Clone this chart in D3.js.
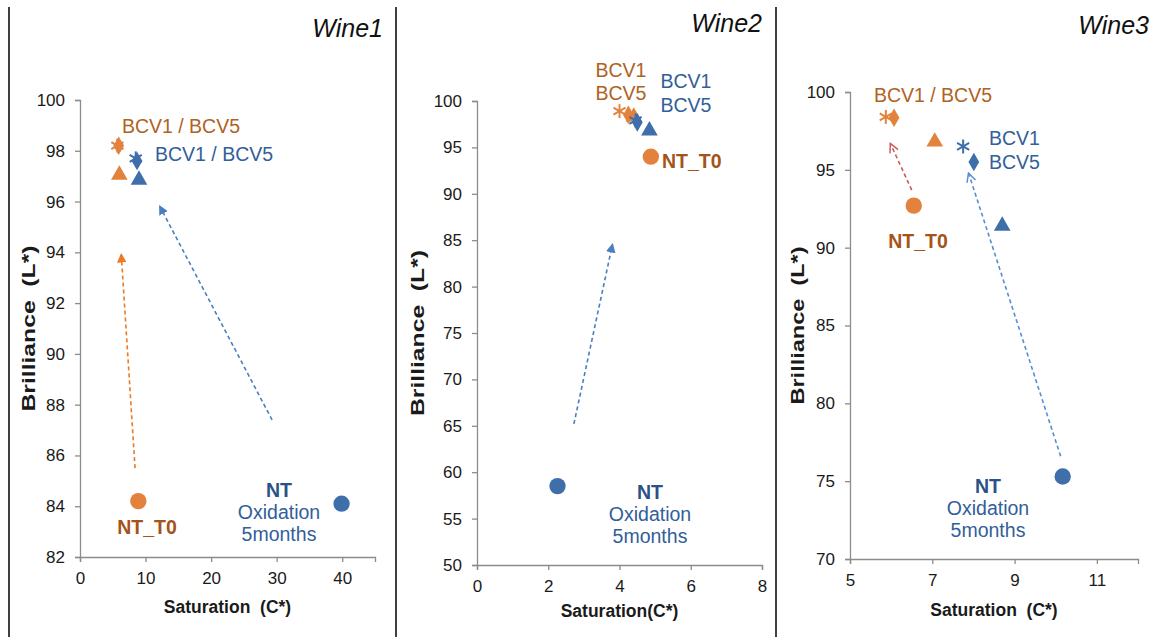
<!DOCTYPE html>
<html>
<head>
<meta charset="utf-8">
<script src="https://cdn.jsdelivr.net/npm/d3@7"></script>
<style>
  body { margin: 0; background: #fff; }
  svg { display: block; font-family: "Liberation Sans", Arial, sans-serif; }
  text { white-space: pre; }
</style>
</head>
<body>
<svg id="chart" width="1157" height="637"></svg>
<script>
// marker order used by every series
const symbols = ["asterisk", "diamond", "triangle", "circle"];

// Wine1
const wine1OrangeX = [5.7, 5.9, 6.0, 8.9];
const wine1OrangeY = [98.2, 98.2, 97.05, 84.2];
const wine1BlueX = [8.5, 8.7, 9.0, 39.9];
const wine1BlueY = [97.7, 97.6, 96.85, 84.1];
// Wine2
const wine2OrangeX = [4.0, 4.25, 4.4, 4.88];
const wine2OrangeY = [98.9, 98.5, 98.3, 94.0];
const wine2BlueX = [4.45, 4.5, 4.84, 2.26];
const wine2BlueY = [97.9, 97.7, 96.8, 58.5];
// Wine3
const wine3OrangeX = [5.87, 6.07, 7.06, 6.55];
const wine3OrangeY = [98.4, 98.35, 96.8, 92.7];
const wine3BlueX = [7.75, 8.01, 8.7, 10.17];
const wine3BlueY = [96.5, 95.5, 91.4, 75.3];

// tick values
const wine1XTicks = [0, 10, 20, 30, 40];
const wine1YTicks = [82, 84, 86, 88, 90, 92, 94, 96, 98, 100];
const wine2XTicks = [0, 2, 4, 6, 8];
const wine2YTicks = [50, 55, 60, 65, 70, 75, 80, 85, 90, 95, 100];
const wine3XTicks = [5, 7, 9, 11];
const wine3YTicks = [70, 75, 80, 85, 90, 95, 100];

// arrows: [x1, y1, x2, y2]
const wine1Arrows = [[8.4, 85.5, 6.3, 93.9], [29.3, 87.4, 12.2, 95.8]];
const wine2Arrows = [[2.72, 65.2, 3.8, 84.5]];
const wine3Arrows = [[6.5, 93.7, 5.98, 96.7], [10.12, 76.6, 7.88, 94.8]];

const ORANGE = "#E2823C", BLUE = "#3F6FAA";
const ORANGE_TXT = "#B0621F", BLUE_TXT = "#325E99";
const NT_T0_TXT = "#A4541A", NT_TXT = "#2B5286";

const svg = d3.select("#chart");

// panel separators
[9, 396, 776].forEach(x => {
    svg.append("line")
        .attr("x1", x).attr("x2", x)
        .attr("y1", 7).attr("y2", 637)
        .attr("stroke", "#000")
        .attr("stroke-width", 1.5);
});

// arrow heads
const defs = svg.append("defs");
function addHead(id, color, open) {
    const m = defs.append("marker")
        .attr("id", id)
        .attr("viewBox", "0 0 10 10")
        .attr("refX", open ? 9 : 8).attr("refY", 5)
        .attr("markerWidth", open ? 7 : 6).attr("markerHeight", open ? 7 : 6)
        .attr("markerUnits", "strokeWidth")
        .attr("orient", "auto");
    if (open) {
        m.append("path").attr("d", "M1,1 L9,5 L1,9")
            .attr("fill", "none").attr("stroke", color).attr("stroke-width", 1.3);
    } else {
        m.append("path").attr("d", "M0,0 L10,5 L0,10 Z").attr("fill", color);
    }
}
addHead("head-orange", "#EC7A22", false);
addHead("head-blue", "#4A7EBE", false);
addHead("head-red", "#CB5A5A", true);
addHead("head-blue-open", "#5A8CD2", true);

const panels = [
    {
        title: "Wine1", titleX: 383, titleY: 37,
        left: 80, right: 375, top: 100, bottom: 557,
        xDomain: [0, 45], yDomain: [82, 100],
        xTicks: wine1XTicks, yTicks: wine1YTicks,
        orange: [wine1OrangeX, wine1OrangeY], blue: [wine1BlueX, wine1BlueY],
        arrows: wine1Arrows, arrowHeads: ["head-orange", "head-blue"],
        arrowColors: ["#EC7A22", "#4A7EBE"],
        xTitle: "Saturation  (C*)", xTitleY: 613,
        yTitle: "Brilliance  (L*)", yTitleX: 35, yTitleLen: 166,
        labels: [
            { t: "BCV1 / BCV5", x: 181, y: 133, c: ORANGE_TXT, a: "middle" },
            { t: "BCV1 / BCV5", x: 155, y: 161, c: BLUE_TXT, a: "start" },
            { t: "NT_T0", x: 147, y: 534, c: NT_T0_TXT, a: "middle", b: true },
            { t: "NT", x: 279, y: 497, c: NT_TXT, a: "middle", b: true },
            { t: "Oxidation", x: 279, y: 519, c: BLUE_TXT, a: "middle" },
            { t: "5months", x: 279, y: 541, c: BLUE_TXT, a: "middle" }
        ]
    },
    {
        title: "Wine2", titleX: 762, titleY: 32,
        left: 477, right: 762, top: 101, bottom: 565,
        xDomain: [0, 8], yDomain: [50, 100],
        xTicks: wine2XTicks, yTicks: wine2YTicks,
        orange: [wine2OrangeX, wine2OrangeY], blue: [wine2BlueX, wine2BlueY],
        arrows: wine2Arrows, arrowHeads: ["head-blue"],
        arrowColors: ["#4A7EBE"],
        xTitle: "Saturation(C*)", xTitleY: 617,
        yTitle: "Brilliance  (L*)", yTitleX: 424, yTitleLen: 166,
        labels: [
            { t: "BCV1", x: 621, y: 77, c: ORANGE_TXT, a: "middle" },
            { t: "BCV5", x: 621, y: 100, c: ORANGE_TXT, a: "middle" },
            { t: "BCV1", x: 686, y: 88, c: BLUE_TXT, a: "middle" },
            { t: "BCV5", x: 686, y: 112, c: BLUE_TXT, a: "middle" },
            { t: "NT_T0", x: 662, y: 168, c: NT_T0_TXT, a: "start", b: true },
            { t: "NT", x: 650, y: 499, c: NT_TXT, a: "middle", b: true },
            { t: "Oxidation", x: 650, y: 521, c: BLUE_TXT, a: "middle" },
            { t: "5months", x: 650, y: 543, c: BLUE_TXT, a: "middle" }
        ]
    },
    {
        title: "Wine3", titleX: 1149, titleY: 34,
        left: 850, right: 1138, top: 92, bottom: 559,
        xDomain: [5, 12], yDomain: [70, 100],
        xTicks: wine3XTicks, yTicks: wine3YTicks,
        orange: [wine3OrangeX, wine3OrangeY], blue: [wine3BlueX, wine3BlueY],
        arrows: wine3Arrows, arrowHeads: ["head-red", "head-blue-open"],
        arrowColors: ["#CB5A5A", "#5A8CD2"],
        xTitle: "Saturation  (C*)", xTitleY: 616,
        yTitle: "Brilliance  (L*)", yTitleX: 804, yTitleLen: 158,
        labels: [
            { t: "BCV1 / BCV5", x: 933, y: 102, c: ORANGE_TXT, a: "middle" },
            { t: "BCV1", x: 989, y: 145, c: BLUE_TXT, a: "start" },
            { t: "BCV5", x: 989, y: 169, c: BLUE_TXT, a: "start" },
            { t: "NT_T0", x: 918, y: 248, c: NT_T0_TXT, a: "middle", b: true },
            { t: "NT", x: 988, y: 493, c: NT_TXT, a: "middle", b: true },
            { t: "Oxidation", x: 988, y: 515, c: BLUE_TXT, a: "middle" },
            { t: "5months", x: 988, y: 537, c: BLUE_TXT, a: "middle" }
        ]
    }
];

function drawMarker(g, kind, cx, cy, color) {
    if (kind === "asterisk") {
        const r = 7;
        [0, 60, 120].forEach(a => {
            const rad = a * Math.PI / 180;
            g.append("line")
                .attr("x1", cx - r * Math.sin(rad)).attr("y1", cy - r * Math.cos(rad))
                .attr("x2", cx + r * Math.sin(rad)).attr("y2", cy + r * Math.cos(rad))
                .attr("stroke", color).attr("stroke-width", 2);
        });
        return;
    }
    const type = { diamond: d3.symbolDiamond, triangle: d3.symbolTriangle, circle: d3.symbolCircle }[kind];
    const size = { diamond: 100, triangle: 120, circle: 210 }[kind];
    g.append("path")
        .attr("d", d3.symbol().type(type).size(size)())
        .attr("transform", "translate(" + cx + "," + cy + ")")
        .attr("fill", color);
}

panels.forEach(p => {
    const x = d3.scaleLinear().domain(p.xDomain).range([p.left, p.right]);
    const y = d3.scaleLinear().domain(p.yDomain).range([p.bottom, p.top]);
    const g = svg.append("g");

    const xAxis = g.append("g")
        .attr("transform", "translate(0," + p.bottom + ")")
        .call(d3.axisBottom(x).tickValues(p.xTicks).tickSize(5).tickPadding(10).tickFormat(d3.format("d")));
    const yAxis = g.append("g")
        .attr("transform", "translate(" + p.left + ",0)")
        .call(d3.axisLeft(y).tickValues(p.yTicks).tickSize(5).tickPadding(10).tickFormat(d3.format("d")));
    [xAxis, yAxis].forEach(a => {
        a.select(".domain").attr("stroke", "#8c8c8c").attr("stroke-width", 1.3);
        a.selectAll(".tick line").attr("stroke", "#8c8c8c").attr("stroke-width", 1.3);
        a.selectAll(".tick text").attr("fill", "#1a1a1a")
            .style("font-size", "17px").style("font-family", "Liberation Sans, Arial, sans-serif");
    });

    g.append("text")
        .attr("x", (p.left + p.right) / 2).attr("y", p.xTitleY)
        .attr("text-anchor", "middle")
        .style("font-size", "17.5px").style("font-weight", "bold")
        .attr("fill", "#1a1a1a")
        .text(p.xTitle);

    g.append("text")
        .attr("transform", "translate(" + p.yTitleX + "," + ((p.top + p.bottom) / 2) + ") rotate(-90)")
        .attr("text-anchor", "middle")
        .attr("textLength", p.yTitleLen)
        .attr("lengthAdjust", "spacingAndGlyphs")
        .style("font-size", "19px").style("font-weight", "bold")
        .attr("fill", "#1a1a1a")
        .text(p.yTitle);

    g.append("text")
        .attr("x", p.titleX).attr("y", p.titleY)
        .attr("text-anchor", "end")
        .style("font-size", "25px").style("font-style", "italic")
        .attr("fill", "#111")
        .text(p.title);

    // arrows
    p.arrows.forEach((a, i) => {
        g.append("line")
            .attr("x1", x(a[0])).attr("y1", y(a[1]))
            .attr("x2", x(a[2])).attr("y2", y(a[3]))
            .attr("stroke", p.arrowColors[i])
            .attr("stroke-width", 1.6)
            .attr("stroke-dasharray", "4,3")
            .attr("marker-end", "url(#" + p.arrowHeads[i] + ")");
    });

    // markers
    [[p.orange, ORANGE], [p.blue, BLUE]].forEach(([s, color]) => {
        symbols.forEach((kind, i) => {
            drawMarker(g, kind, x(s[0][i]), y(s[1][i]), color);
        });
    });

    p.labels.forEach(l => {
        g.append("text")
            .attr("x", l.x).attr("y", l.y)
            .attr("text-anchor", l.a)
            .style("font-size", "19.5px")
            .style("font-weight", l.b ? "bold" : "normal")
            .attr("fill", l.c)
            .text(l.t);
    });
});
</script>
</body>
</html>
